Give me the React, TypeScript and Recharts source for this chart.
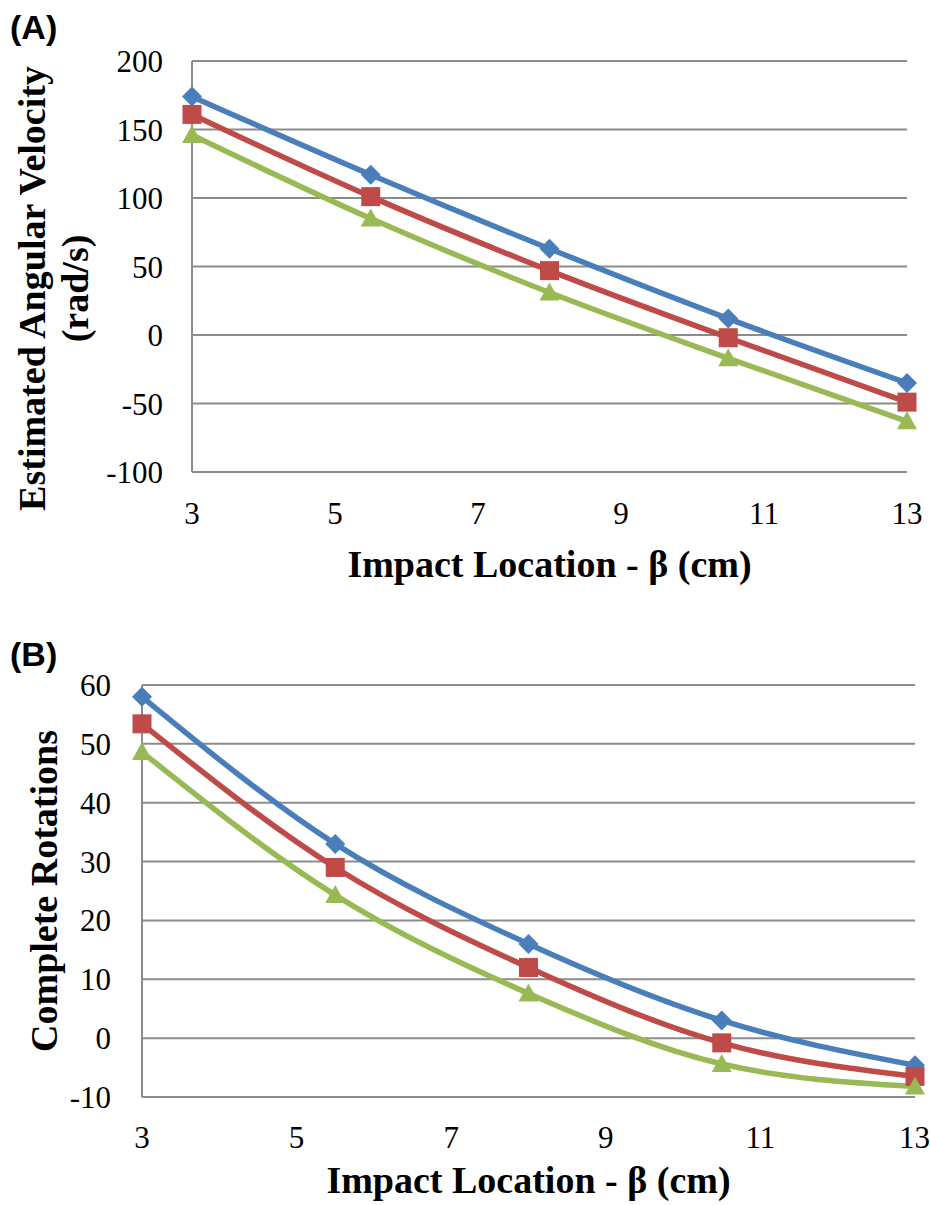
import React from "react"
import { LineChart, Line, XAxis, YAxis, CartesianGrid, Label } from "recharts"

const SERIF = '"Liberation Serif", "Times New Roman", serif'
const SANS = '"Liberation Sans", Arial, sans-serif'

// impact locations (cm)
const impactX = [3, 5.5, 8, 10.5, 13]
const xTicks = [3, 5, 7, 9, 11, 13]

// (A) estimated angular velocity, rad/s
const velBlue = [174, 117, 63, 12, -35]
const velRed = [161, 101, 47, -2, -49]
const velGreen = [146, 85, 31, -17, -63]
const velTicks = [-100, -50, 0, 50, 100, 150, 200]

// (B) complete rotations
const rotBlue = [58, 33, 16, 3, -4.6]
const rotRed = [53.4, 29, 12, -0.8, -6.5]
const rotGreen = [48.6, 24.3, 7.6, -4.4, -8.2]
const rotTicks = [-10, 0, 10, 20, 30, 40, 50, 60]

const BLUE = "#4A7EBB"
const RED = "#BE4B48"
const GREEN = "#98B954"
const GRID = "#8c8c8c"

const velData = impactX.map((x, i) => ({ x, blue: velBlue[i], red: velRed[i], green: velGreen[i] }))
const rotData = impactX.map((x, i) => ({ x, blue: rotBlue[i], red: rotRed[i], green: rotGreen[i] }))

const diamondDot = (p: any) => {
  const { cx, cy, index } = p
  if (cx == null || cy == null) return <g key={`d${index}`} />
  const r = 10
  return <polygon key={`d${index}`} points={`${cx},${cy - r} ${cx + r},${cy} ${cx},${cy + r} ${cx - r},${cy}`} fill={BLUE} />
}

const squareDot = (p: any) => {
  const { cx, cy, index } = p
  if (cx == null || cy == null) return <g key={`s${index}`} />
  return <rect key={`s${index}`} x={cx - 9.5} y={cy - 9.5} width={19} height={19} fill={RED} />
}

const triangleDot = (p: any) => {
  const { cx, cy, index } = p
  if (cx == null || cy == null) return <g key={`t${index}`} />
  return <polygon key={`t${index}`} points={`${cx},${cy - 10} ${cx + 10},${cy + 8} ${cx - 10},${cy + 8}`} fill={GREEN} />
}

const tickStyle = { fontFamily: SERIF, fontSize: 31, fill: "#000" }

function xTitle(baseline: number) {
  return (props: any) => {
    const vb = props.viewBox || {}
    return (
      <text x={vb.x + vb.width / 2} y={vb.y + baseline} textAnchor="middle"
        fontFamily={SERIF} fontSize={38} fontWeight={700} fill="#000">
        Impact Location - β (cm)
      </text>
    )
  }
}

function yTitle(lines: { text: string; x: number }[], shift: number) {
  return (props: any) => {
    const vb = props.viewBox || {}
    const cy = vb.y + vb.height / 2 + shift
    return (
      <g>
        {lines.map(l => (
          <text key={l.text} x={l.x} y={cy} textAnchor="middle" transform={`rotate(-90, ${l.x}, ${cy})`}
            fontFamily={SERIF} fontSize={38} fontWeight={700} fill="#000">
            {l.text}
          </text>
        ))}
      </g>
    )
  }
}

export default function App() {
  return (
    <div style={{ position: "absolute", left: 0, top: 0, width: 930, height: 1205, background: "#fff" }}>
      <LineChart width={930} height={600} data={velData} margin={{ top: 61, right: 23, bottom: 0, left: 0 }}>
        <CartesianGrid vertical={false} stroke={GRID} strokeWidth={2} />
        <XAxis
          type="number"
          dataKey="x"
          domain={[3, 13]}
          ticks={xTicks}
          height={128}
          tick={tickStyle}
          tickLine={false}
          tickSize={0}
          tickMargin={30}
          axisLine={{ stroke: GRID, strokeWidth: 2 }}
        >
          <Label content={xTitle(105)} />
        </XAxis>
        <YAxis
          domain={[-100, 200]}
          ticks={velTicks}
          width={192}
          tick={tickStyle}
          tickLine={false}
          tickSize={0}
          tickMargin={29}
          axisLine={{ stroke: GRID, strokeWidth: 2 }}
        >
          <Label content={yTitle([{ text: "Estimated Angular Velocity", x: 45 }, { text: "(rad/s)", x: 88 }], 22)} />
        </YAxis>
        <Line type="monotone" dataKey="blue" stroke={BLUE} strokeWidth={5.5} dot={diamondDot} activeDot={false} isAnimationActive={false} />
        <Line type="monotone" dataKey="red" stroke={RED} strokeWidth={5.5} dot={squareDot} activeDot={false} isAnimationActive={false} />
        <Line type="monotone" dataKey="green" stroke={GREEN} strokeWidth={5.5} dot={triangleDot} activeDot={false} isAnimationActive={false} />
      </LineChart>

      <LineChart width={930} height={605} data={rotData} margin={{ top: 85, right: 15, bottom: 0, left: 0 }}>
        <CartesianGrid vertical={false} stroke={GRID} strokeWidth={2} />
        <XAxis
          type="number"
          dataKey="x"
          domain={[3, 13]}
          ticks={xTicks}
          height={108}
          tick={tickStyle}
          tickLine={false}
          tickSize={0}
          tickMargin={29}
          axisLine={{ stroke: GRID, strokeWidth: 2 }}
        >
          <Label content={xTitle(96)} />
        </XAxis>
        <YAxis
          domain={[-10, 60]}
          ticks={rotTicks}
          width={142}
          tick={tickStyle}
          tickLine={false}
          tickSize={0}
          tickMargin={31}
          axisLine={{ stroke: GRID, strokeWidth: 2 }}
        >
          <Label content={yTitle([{ text: "Complete Rotations", x: 57 }], 0)} />
        </YAxis>
        <Line type="monotone" dataKey="blue" stroke={BLUE} strokeWidth={5.5} dot={diamondDot} activeDot={false} isAnimationActive={false} />
        <Line type="monotone" dataKey="red" stroke={RED} strokeWidth={5.5} dot={squareDot} activeDot={false} isAnimationActive={false} />
        <Line type="monotone" dataKey="green" stroke={GREEN} strokeWidth={5.5} dot={triangleDot} activeDot={false} isAnimationActive={false} />
      </LineChart>

      {/* panel letters */}
      <svg width={930} height={1205} style={{ position: "absolute", left: 0, top: 0, pointerEvents: "none" }}>
        <text x={10} y={39} fontFamily={SANS} fontSize={34} fontWeight={700}>(A)</text>
        <text x={10} y={666} fontFamily={SANS} fontSize={34} fontWeight={700}>(B)</text>
      </svg>
    </div>
  )
}
